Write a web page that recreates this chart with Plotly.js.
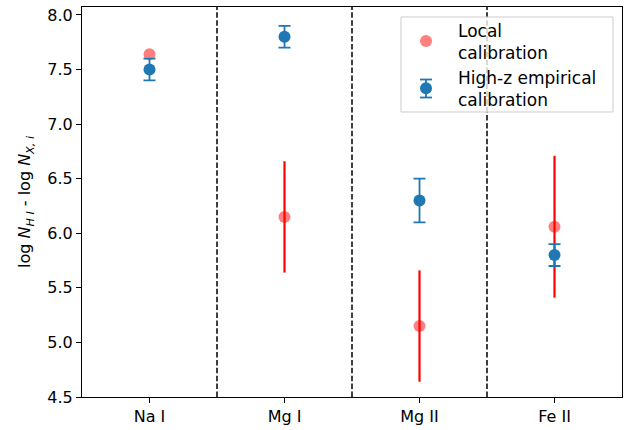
<!DOCTYPE html>
<html>
<head>
<meta charset="utf-8">
<script src="https://cdn.plot.ly/plotly-3.0.1.min.js"></script>
<style>html,body{margin:0;padding:0;background:#fff;}</style>
</head>
<body>
<div id="chart" style="width:633px;height:430px;"></div>
<script>
const categories = ["Na I", "Mg I", "Mg II", "Fe II"];
const localValues = [7.64, 6.15, 5.15, 6.06];
const localErrors = [0, 0.51, 0.51, 0.65];
const highzValues = [7.50, 7.80, 6.30, 5.80];
const highzErrors = [0.10, 0.10, 0.20, 0.10];
const dividers = [0.5, 1.5, 2.5];

const xIdx = categories.map((c, i) => i);
const font = {family: "DejaVu Sans", size: 16, color: "#000"};
const legendFont = {family: "DejaVu Sans", size: 17, color: "#000"};

const traces = [
  {
    x: xIdx, y: localValues, type: "scatter", mode: "markers",
    name: "Local<br>calibration",
    marker: {color: "rgba(255,0,0,0.5)", size: 12},
    hoverinfo: "skip"
  },
  {
    x: xIdx, y: localValues, type: "scatter", mode: "markers",
    showlegend: false,
    marker: {color: "rgba(0,0,0,0)", size: 1},
    error_y: {type: "data", array: localErrors, visible: true, color: "#ff0000", thickness: 2.2, width: 0},
    hoverinfo: "skip"
  },
  {
    x: xIdx, y: highzValues, type: "scatter", mode: "markers",
    name: "High-z empirical<br>calibration",
    marker: {color: "#1f77b4", size: 12},
    error_y: {type: "data", array: highzErrors, visible: true, color: "#1f77b4", thickness: 1.8, width: 6},
    hoverinfo: "skip"
  }
];

const shapes = dividers.map(d => ({
  type: "line", xref: "x", yref: "paper", x0: d, x1: d, y0: 0, y1: 1,
  line: {color: "#000", width: 1.5, dash: "5.5px,2.4px"}
}));
// legend frame (matplotlib-style box)
shapes.push({
  type: "rect", xref: "paper", yref: "paper",
  x0: 0.5907, x1: 0.9833, y0: 0.7308, y1: 0.9744,
  line: {color: "#cccccc", width: 1}, fillcolor: "rgba(255,255,255,0.8)", layer: "above"
});
// error-bar glyph for the second legend entry
const capStyle = {color: "#1f77b4", width: 1.8};
shapes.push({type: "line", xref: "paper", yref: "paper", x0: 0.6259, x1: 0.6481, y0: 0.8141, y1: 0.8141, line: capStyle, layer: "above"});
shapes.push({type: "line", xref: "paper", yref: "paper", x0: 0.6259, x1: 0.6481, y0: 0.7679, y1: 0.7679, line: capStyle, layer: "above"});
shapes.push({type: "line", xref: "paper", yref: "paper", x0: 0.63704, x1: 0.63704, y0: 0.7679, y1: 0.8141, line: capStyle, layer: "above"});

const layout = {
  width: 633, height: 430,
  margin: {l: 82, r: 11, t: 7, b: 33},
  paper_bgcolor: "#fff", plot_bgcolor: "#fff",
  font: font,
  showlegend: true,
  shapes: shapes,
  xaxis: {
    range: [-0.5, 3.5],
    tickmode: "array", tickvals: xIdx, ticktext: categories,
    ticks: "outside", ticklen: 5, tickwidth: 1, tickcolor: "#000",
    showline: true, linecolor: "#000", linewidth: 1, mirror: true,
    showgrid: false, zeroline: false,
    tickfont: font
  },
  yaxis: {
    range: [4.5, 8.073],
    tickmode: "array",
    tickvals: [4.5, 5.0, 5.5, 6.0, 6.5, 7.0, 7.5, 8.0],
    ticktext: ["4.5", "5.0", "5.5", "6.0", "6.5", "7.0", "7.5", "8.0"],
    ticks: "outside", ticklen: 5, tickwidth: 1, tickcolor: "#000",
    showline: true, linecolor: "#000", linewidth: 1, mirror: true,
    showgrid: false, zeroline: false,
    tickfont: font,
    title: {text: "log <i>N</i><sub><i>H I</i></sub> - log <i>N</i><sub><i>X, i</i></sub>", font: font, standoff: 12}
  },
  legend: {
    x: 0.5778, y: 0.986, xanchor: "left", yanchor: "top",
    bgcolor: "rgba(0,0,0,0)", borderwidth: 0,
    font: legendFont, itemsizing: "constant", itemwidth: 54
  }
};

Plotly.newPlot("chart", traces, layout, {displayModeBar: false, staticPlot: true});
</script>
</body>
</html>
